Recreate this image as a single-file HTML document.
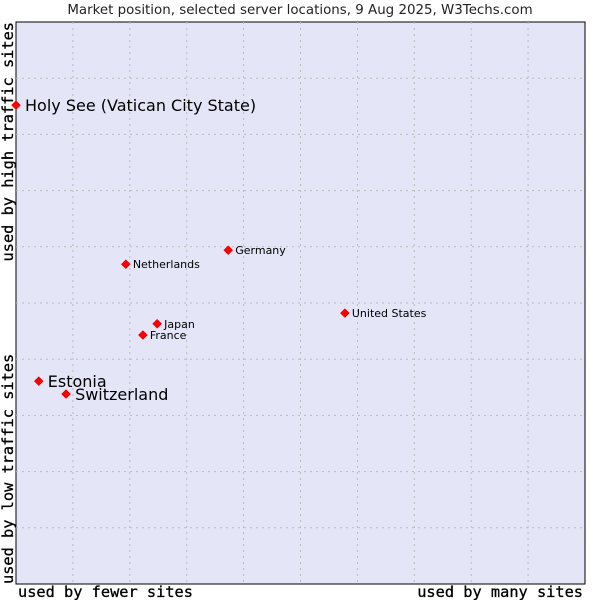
<!DOCTYPE html>
<html><head><meta charset="utf-8"><style>
body{margin:0;background:#fff;}
svg text{font-family:"DejaVu Sans","Liberation Sans",sans-serif;}
.mono{font-family:"DejaVu Sans Mono","Liberation Mono",monospace;}
</style></head><body>
<svg id="chart" width="600" height="600" xmlns="http://www.w3.org/2000/svg">
<text x="300" y="14" font-size="13.4" text-anchor="middle" fill="#222">Market position, selected server locations, 9 Aug 2025, W3Techs.com</text>
<rect x="16" y="22" width="569" height="562" fill="#e4e6f8" stroke="#000" stroke-width="1"/>
<g id="grid"></g>
<g id="points"></g>
<text class="mono" x="18" y="597" font-size="15.3" stroke="#000" stroke-width="0.3">used by fewer sites</text>
<text class="mono" x="583" y="597" font-size="15.3" text-anchor="end" stroke="#000" stroke-width="0.3">used by many sites</text>
<text class="mono" transform="translate(13,22) rotate(-90)" font-size="15.3" text-anchor="end" stroke="#000" stroke-width="0.3">used by high traffic sites</text>
<text class="mono" transform="translate(13,584) rotate(-90)" font-size="15.3" text-anchor="start" stroke="#000" stroke-width="0.3">used by low traffic sites</text>
</svg>
<script>
const countries=["Holy See (Vatican City State)","Estonia","Switzerland","Netherlands","Germany","United States","Japan","France"];
const xValues=[0,4.0,8.8,19.3,37.3,57.8,24.8,22.3];
const yValues=[85.2,36.1,33.8,56.9,59.4,48.2,46.3,44.3];
const bigLabel=[true,true,true,false,false,false,false,false];
const L=16,T=22,W=569,H=562;
const xs=v=>L+v/100*W, ys=v=>T+H-v/100*H;
const NS="http://www.w3.org/2000/svg";
const g=document.getElementById('grid');
for(let i=1;i<10;i++){
 const a=document.createElementNS(NS,'line');
 
 
 a.setAttribute('x1',xs(i*10));a.setAttribute('x2',xs(i*10));a.setAttribute('y1',T);a.setAttribute('y2',T+H);
 a.setAttribute('stroke','#bbbbbb');a.setAttribute('stroke-dasharray','2,4');g.appendChild(a);
 const b=document.createElementNS(NS,'line');
 
 
 b.setAttribute('x1',L);b.setAttribute('x2',L+W);b.setAttribute('y1',ys(i*10));b.setAttribute('y2',ys(i*10));
 b.setAttribute('stroke','#bbbbbb');b.setAttribute('stroke-dasharray','2,4');g.appendChild(b);
}
const p=document.getElementById('points');
countries.forEach((c,i)=>{
 const x=xs(xValues[i]),y=ys(yValues[i]);
 const m=document.createElementNS(NS,'polygon');
 
 
 m.setAttribute('points',`${x},${y-4.5} ${x+4.5},${y} ${x},${y+4.5} ${x-4.5},${y}`);
 m.setAttribute('fill','#ff0000');m.setAttribute('stroke','#c00');m.setAttribute('stroke-width','0.5');p.appendChild(m);
 const t=document.createElementNS(NS,'text');
 
 
 t.setAttribute('x',x+(bigLabel[i]?9:7));t.setAttribute('y',y+(bigLabel[i]?6:4));
 t.setAttribute('font-size',bigLabel[i]?'16':'11');t.setAttribute('fill','#000');
 t.textContent=c;p.appendChild(t);
});
</script>
</body></html>
